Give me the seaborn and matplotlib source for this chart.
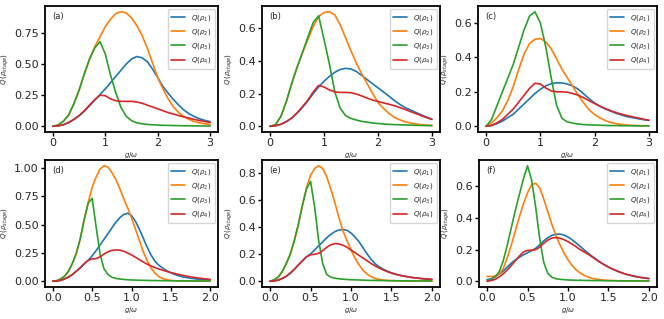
import numpy as np
import matplotlib
matplotlib.use("Agg")
import matplotlib.pyplot as plt
import seaborn as sns

# sampling grids (g/omega)
x_top = [0.0, 0.1, 0.2, 0.3, 0.4, 0.5, 0.6, 0.7, 0.8, 0.9, 1.0,
         1.1, 1.2, 1.3, 1.4, 1.5, 1.6, 1.7, 1.8, 1.9, 2.0,
         2.1, 2.2, 2.3, 2.4, 2.5, 2.6, 2.7, 2.8, 2.9, 3.0]
x_bot = [0.0, 0.05, 0.1, 0.15, 0.2, 0.25, 0.3, 0.35, 0.4, 0.45, 0.5,
         0.55, 0.6, 0.65, 0.7, 0.75, 0.8, 0.85, 0.9, 0.95, 1.0,
         1.05, 1.1, 1.15, 1.2, 1.25, 1.3, 1.35, 1.4, 1.45, 1.5,
         1.55, 1.6, 1.65, 1.7, 1.75, 1.8, 1.85, 1.9, 1.95, 2.0]

# panel (a)
q1_a = [0, 0.003, 0.012, 0.03, 0.055, 0.085, 0.12, 0.165, 0.21, 0.255, 0.30, 0.35, 0.40, 0.45, 0.50,
        0.54, 0.56, 0.55, 0.52, 0.46, 0.39, 0.32, 0.265, 0.215, 0.17, 0.13, 0.1, 0.078, 0.06, 0.047, 0.037]
q2_a = [0, 0.01, 0.04, 0.09, 0.18, 0.29, 0.42, 0.54, 0.64, 0.72, 0.80, 0.86, 0.905, 0.92, 0.91,
        0.87, 0.81, 0.73, 0.63, 0.51, 0.39, 0.30, 0.22, 0.155, 0.11, 0.078, 0.055, 0.038, 0.027, 0.019, 0.014]
q3_a = [0, 0.01, 0.04, 0.09, 0.18, 0.29, 0.42, 0.54, 0.63, 0.68, 0.58, 0.41, 0.27, 0.15, 0.08,
        0.045, 0.028, 0.02, 0.015, 0.012, 0.01, 0.008, 0.007, 0.006, 0.005, 0.004, 0.004, 0.003, 0.003, 0.002, 0.002]
q4_a = [0, 0.003, 0.012, 0.03, 0.055, 0.085, 0.125, 0.17, 0.215, 0.25, 0.245, 0.22, 0.205, 0.2, 0.2,
        0.2, 0.195, 0.185, 0.17, 0.155, 0.14, 0.125, 0.11, 0.098, 0.086, 0.075, 0.065, 0.055, 0.046, 0.038, 0.03]

# panel (b)
q1_b = [0, 0.003, 0.012, 0.028, 0.05, 0.08, 0.115, 0.155, 0.2, 0.24, 0.275, 0.305, 0.33, 0.347, 0.354,
        0.35, 0.335, 0.31, 0.285, 0.26, 0.235, 0.21, 0.185, 0.158, 0.135, 0.115, 0.1, 0.085, 0.07, 0.056, 0.043]
q2_b = [0, 0.01, 0.06, 0.15, 0.26, 0.36, 0.45, 0.53, 0.61, 0.67, 0.695, 0.70, 0.68, 0.62, 0.54,
        0.46, 0.385, 0.32, 0.26, 0.2, 0.145, 0.11, 0.08, 0.055, 0.04, 0.028, 0.02, 0.014, 0.01, 0.007, 0.005]
q3_b = [0, 0.01, 0.06, 0.15, 0.26, 0.36, 0.45, 0.545, 0.635, 0.675, 0.53, 0.38, 0.21, 0.11, 0.065,
        0.048, 0.038, 0.03, 0.025, 0.02, 0.017, 0.014, 0.012, 0.01, 0.009, 0.008, 0.007, 0.006, 0.005, 0.004, 0.004]
q4_b = [0, 0.003, 0.012, 0.028, 0.05, 0.082, 0.12, 0.16, 0.21, 0.25, 0.24, 0.222, 0.21, 0.207, 0.207,
        0.205, 0.197, 0.185, 0.172, 0.16, 0.152, 0.143, 0.135, 0.126, 0.115, 0.103, 0.09, 0.078, 0.065, 0.053, 0.042]

# panel (c)
q1_c = [0, 0.005, 0.015, 0.03, 0.05, 0.07, 0.1, 0.13, 0.16, 0.19, 0.215, 0.235, 0.247, 0.252, 0.252,
        0.245, 0.233, 0.215, 0.188, 0.16, 0.135, 0.116, 0.1, 0.087, 0.075, 0.065, 0.056, 0.05, 0.044, 0.038, 0.034]
q2_c = [0, 0.02, 0.05, 0.09, 0.15, 0.23, 0.33, 0.42, 0.48, 0.505, 0.51, 0.49, 0.45, 0.39, 0.33,
        0.28, 0.23, 0.18, 0.135, 0.095, 0.068, 0.048, 0.033, 0.022, 0.015, 0.01, 0.007, 0.005, 0.004, 0.003, 0.002]
q3_c = [0, 0.04, 0.12, 0.2, 0.28, 0.36, 0.46, 0.56, 0.64, 0.665, 0.6, 0.46, 0.28, 0.12, 0.045,
        0.025, 0.018, 0.013, 0.01, 0.008, 0.007, 0.006, 0.005, 0.004, 0.004, 0.003, 0.003, 0.003, 0.002, 0.002, 0.002]
q4_c = [0, 0.005, 0.02, 0.04, 0.07, 0.1, 0.14, 0.18, 0.22, 0.25, 0.245, 0.222, 0.205, 0.2, 0.2,
        0.198, 0.19, 0.18, 0.165, 0.148, 0.132, 0.116, 0.102, 0.09, 0.079, 0.07, 0.062, 0.055, 0.048, 0.041, 0.035]

# panel (d)
q1_d = [0, 0.002, 0.008, 0.02, 0.037, 0.06, 0.09, 0.12, 0.155, 0.185, 0.225, 0.27, 0.32, 0.37, 0.42,
        0.47, 0.52, 0.56, 0.59, 0.6, 0.58, 0.53, 0.46, 0.38, 0.3, 0.23, 0.175, 0.14, 0.115, 0.092,
        0.075, 0.06, 0.048, 0.039, 0.032, 0.026, 0.022, 0.018, 0.015, 0.012, 0.01]
q2_d = [0, 0.005, 0.02, 0.045, 0.09, 0.16, 0.25, 0.38, 0.55, 0.70, 0.83, 0.92, 0.99, 1.02, 1.01,
        0.96, 0.9, 0.82, 0.73, 0.65, 0.56, 0.46, 0.36, 0.26, 0.18, 0.115, 0.07, 0.04, 0.023, 0.013,
        0.007, 0.004, 0.003, 0.002, 0.002, 0.001, 0.001, 0.001, 0.001, 0.001, 0.001]
q3_d = [0, 0.005, 0.02, 0.045, 0.09, 0.16, 0.25, 0.38, 0.55, 0.69, 0.733, 0.48, 0.24, 0.11, 0.06,
        0.035, 0.025, 0.02, 0.016, 0.013, 0.011, 0.01, 0.009, 0.008, 0.007, 0.006, 0.006, 0.005, 0.005, 0.004,
        0.004, 0.004, 0.003, 0.003, 0.003, 0.003, 0.002, 0.002, 0.002, 0.002, 0.002]
q4_d = [0, 0.002, 0.008, 0.02, 0.037, 0.06, 0.09, 0.12, 0.155, 0.185, 0.198, 0.2, 0.215, 0.24, 0.26,
        0.272, 0.277, 0.275, 0.265, 0.25, 0.232, 0.212, 0.19, 0.17, 0.15, 0.135, 0.12, 0.108, 0.097, 0.086,
        0.077, 0.068, 0.06, 0.052, 0.045, 0.039, 0.033, 0.028, 0.024, 0.02, 0.017]

# panel (e)
q1_e = [0, 0.002, 0.008, 0.02, 0.037, 0.06, 0.088, 0.12, 0.15, 0.18, 0.2, 0.23, 0.26, 0.29, 0.32,
        0.345, 0.365, 0.377, 0.38, 0.375, 0.355, 0.325, 0.29, 0.245, 0.2, 0.16, 0.128, 0.105, 0.088, 0.074,
        0.062, 0.053, 0.045, 0.038, 0.033, 0.028, 0.024, 0.021, 0.018, 0.015, 0.013]
q2_e = [0, 0.01, 0.03, 0.07, 0.13, 0.2, 0.3, 0.42, 0.56, 0.69, 0.78, 0.83, 0.85, 0.83, 0.77,
        0.68, 0.58, 0.47, 0.37, 0.3, 0.23, 0.17, 0.12, 0.08, 0.052, 0.033, 0.02, 0.013, 0.008, 0.006,
        0.004, 0.003, 0.002, 0.002, 0.001, 0.001, 0.001, 0.001, 0.001, 0.001, 0.001]
q3_e = [0, 0.01, 0.03, 0.07, 0.13, 0.2, 0.3, 0.42, 0.56, 0.68, 0.735, 0.55, 0.3, 0.13, 0.05,
        0.03, 0.022, 0.018, 0.015, 0.013, 0.011, 0.01, 0.009, 0.008, 0.007, 0.006, 0.006, 0.005, 0.005, 0.004,
        0.004, 0.004, 0.003, 0.003, 0.003, 0.003, 0.002, 0.002, 0.002, 0.002, 0.002]
q4_e = [0, 0.002, 0.008, 0.02, 0.037, 0.06, 0.088, 0.12, 0.15, 0.18, 0.195, 0.198, 0.205, 0.225, 0.25,
        0.268, 0.277, 0.275, 0.265, 0.25, 0.23, 0.21, 0.19, 0.17, 0.15, 0.13, 0.112, 0.097, 0.083, 0.07,
        0.06, 0.051, 0.044, 0.038, 0.033, 0.028, 0.024, 0.021, 0.018, 0.016, 0.014]

# panel (f)
q1_f = [0.01, 0.015, 0.027, 0.045, 0.065, 0.09, 0.115, 0.135, 0.152, 0.167, 0.18, 0.193, 0.208, 0.23, 0.255,
        0.275, 0.29, 0.297, 0.298, 0.292, 0.28, 0.262, 0.242, 0.22, 0.198, 0.177, 0.157, 0.138, 0.12, 0.104,
        0.09, 0.077, 0.066, 0.056, 0.047, 0.04, 0.034, 0.028, 0.024, 0.02, 0.017]
q2_f = [0.03, 0.03, 0.032, 0.045, 0.08, 0.15, 0.23, 0.32, 0.41, 0.49, 0.56, 0.61, 0.62, 0.59, 0.52,
        0.44, 0.36, 0.29, 0.23, 0.18, 0.135, 0.1, 0.072, 0.052, 0.037, 0.026, 0.018, 0.013, 0.009, 0.007,
        0.005, 0.004, 0.003, 0.003, 0.002, 0.002, 0.002, 0.001, 0.001, 0.001, 0.001]
q3_f = [0, 0.01, 0.03, 0.06, 0.13, 0.23, 0.34, 0.45, 0.55, 0.65, 0.73, 0.64, 0.47, 0.27, 0.12,
        0.05, 0.025, 0.016, 0.012, 0.01, 0.008, 0.007, 0.006, 0.006, 0.005, 0.005, 0.004, 0.004, 0.004, 0.003,
        0.003, 0.003, 0.003, 0.002, 0.002, 0.002, 0.002, 0.002, 0.002, 0.002, 0.002]
q4_f = [0, 0.004, 0.012, 0.027, 0.047, 0.072, 0.1, 0.13, 0.16, 0.185, 0.195, 0.196, 0.2, 0.215, 0.24,
        0.26, 0.273, 0.276, 0.272, 0.263, 0.25, 0.235, 0.218, 0.2, 0.185, 0.17, 0.153, 0.136, 0.119, 0.103,
        0.089, 0.077, 0.066, 0.056, 0.047, 0.04, 0.034, 0.028, 0.024, 0.02, 0.017]

panels = [
    ("(a)", x_top, [q1_a, q2_a, q3_a, q4_a]),
    ("(b)", x_top, [q1_b, q2_b, q3_b, q4_b]),
    ("(c)", x_top, [q1_c, q2_c, q3_c, q4_c]),
    ("(d)", x_bot, [q1_d, q2_d, q3_d, q4_d]),
    ("(e)", x_bot, [q1_e, q2_e, q3_e, q4_e]),
    ("(f)", x_bot, [q1_f, q2_f, q3_f, q4_f]),
]
labels = [r"$Q(\rho_1)$", r"$Q(\rho_2)$", r"$Q(\rho_3)$", r"$Q(\rho_4)$"]
colors = ["#1f77b4", "#ff7f0e", "#2ca02c", "#d62728"]

# axes boxes in pixels: left, top, right, bottom
boxes = [(45, 6, 218, 132), (262, 6, 440, 132), (478, 6, 657, 132),
         (45, 160, 218, 287), (262, 160, 440, 287), (479, 160, 657, 287)]

sns.set_style("white")
plt.rcParams['font.family'] = ['DejaVu Sans']

W, H = 664, 319
fig = plt.figure(figsize=(W / 100, H / 100), dpi=100)

for (tag, xs, curves), (l, t, r, b) in zip(panels, boxes):
    ax = fig.add_axes([l / W, 1 - b / H, (r - l) / W, (b - t) / H])
    for ys, lab, col in zip(curves, labels, colors):
        sns.lineplot(x=xs, y=ys, ax=ax, color=col, label=lab, linewidth=1.2)
    for sp in ax.spines.values():
        sp.set_color("black")
        sp.set_linewidth(1.3)
    ax.tick_params(axis="both", labelsize=8, length=3, width=1, color="black",
                   direction="out", bottom=True, left=True, pad=1.5)
    ax.set_xlabel(r"$g/\omega$", fontsize=5, labelpad=1)
    ax.set_ylabel(r"$Q\,(\rho_{stage})$", fontsize=5, labelpad=2)
    ax.text(0.04, 0.95, tag, transform=ax.transAxes, fontsize=6, va="top", ha="left")
    ax.legend(loc="upper right", fontsize=5, frameon=True, borderpad=0.5, labelspacing=0.6)

fig.savefig("out.png", dpi=100)
